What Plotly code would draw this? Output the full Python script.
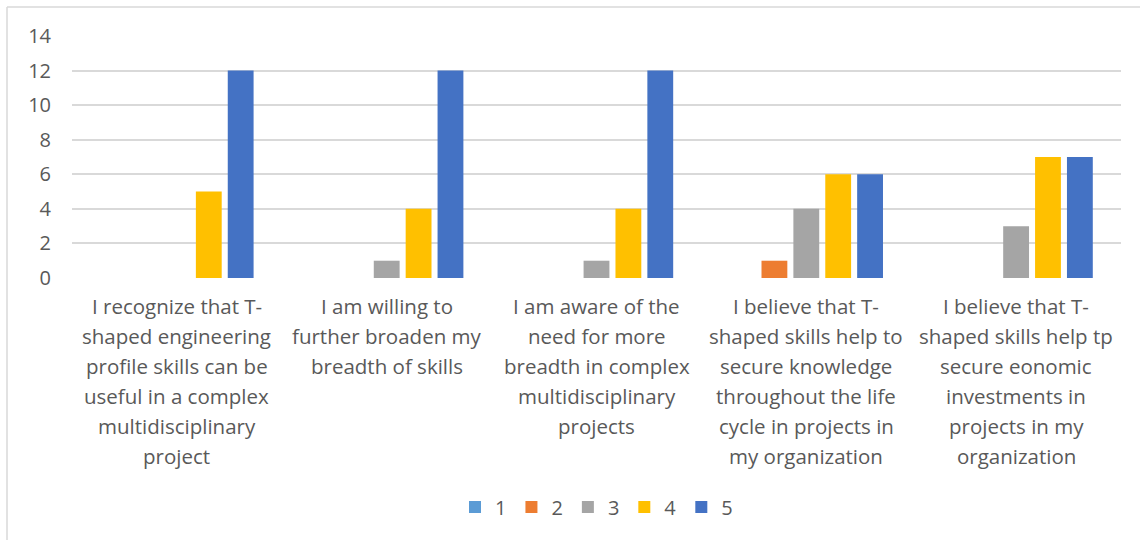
import plotly.graph_objects as go

CATEGORIES = [
    "I recognize that T-<br>shaped engineering<br>profile skills can be<br>useful in a complex<br>multidisciplinary<br>project",
    "I am willing to<br>further broaden my<br>breadth of skills",
    "I am aware of the<br>need for more<br>breadth in complex<br>multidisciplinary<br>projects",
    "I believe that T-<br>shaped skills help to<br>secure knowledge<br>throughout the life<br>cycle in projects in<br>my organization",
    "I believe that T-<br>shaped skills help tp<br>secure eonomic<br>investments in<br>projects in my<br>organization",
]
SERIES_NAMES = ["1", "2", "3", "4", "5"]
SCORE_1 = [0, 0, 0, 0, 0]
SCORE_2 = [0, 0, 0, 1, 0]
SCORE_3 = [0, 1, 1, 4, 3]
SCORE_4 = [5, 4, 4, 6, 7]
SCORE_5 = [12, 12, 12, 6, 7]
Y_TICKS = [0, 2, 4, 6, 8, 10, 12, 14]

COLORS = ["#5B9BD5", "#ED7D31", "#A5A5A5", "#FFC000", "#4472C4"]
TEXT = "#595959"
GRID = "#D9D9D9"
FONT = "Open Sans"

# x positions are category indices so the wrapped labels can be set line by line
xs = list(range(len(CATEGORIES)))
fig = go.Figure()
for name, vals, color in zip(SERIES_NAMES, [SCORE_1, SCORE_2, SCORE_3, SCORE_4, SCORE_5], COLORS):
    fig.add_trace(go.Bar(name=name, x=xs, y=vals, marker=dict(color=color, line=dict(width=0))))

# category labels, one annotation per line for Excel-like line spacing
for i, label in enumerate(CATEGORIES):
    for j, line in enumerate(label.split("<br>")):
        fig.add_annotation(
            x=i, xref="x", y=0, yref="y", yanchor="middle",
            yshift=-28 - 30 * j, text=line, showarrow=False,
            font=dict(family=FONT, size=20.5, color=TEXT),
        )

L, R, T, B = 72, 19, 36, 262
pw, ph = 1140 - L - R, 540 - T - B
# chart-area border (only left and top edges are visible in the reference)
fig.add_shape(type="line", xref="paper", yref="paper",
              x0=(7 - L) / pw, x1=(7 - L) / pw, y0=-B / ph - 0.01, y1=(540 - 7 - B) / ph,
              line=dict(color=GRID, width=1.5))
fig.add_shape(type="line", xref="paper", yref="paper",
              x0=(7 - L) / pw, x1=(1140 - L) / pw, y0=(540 - 7 - B) / ph, y1=(540 - 7 - B) / ph,
              line=dict(color=GRID, width=1.5))

fig.update_layout(
    width=1140, height=540,
    margin=dict(l=L, r=R, t=T, b=B),
    paper_bgcolor="white", plot_bgcolor="white",
    barmode="group", bargap=0.24, bargroupgap=0.19,
    font=dict(family=FONT, size=18, color=TEXT),
    xaxis=dict(range=[-0.5, 4.5], showticklabels=False, showgrid=False, zeroline=False,
               showline=False, ticks=""),
    yaxis=dict(range=[0, 14], tickvals=Y_TICKS, showgrid=True, gridcolor=GRID, gridwidth=1.5,
               zeroline=False, showline=False, ticks="", ticklabelstandoff=20,
               tickfont=dict(family=FONT, size=20, color=TEXT)),
    legend=dict(orientation="h", x=0.5, xanchor="center", y=(278 - 507) / ph, yanchor="middle",
                font=dict(family=FONT, size=20, color=TEXT), itemwidth=30, traceorder="normal"),
    showlegend=True,
)

fig.write_html("out.html", config={"displayModeBar": False},
               post_script="document.body.style.margin='0px';")
